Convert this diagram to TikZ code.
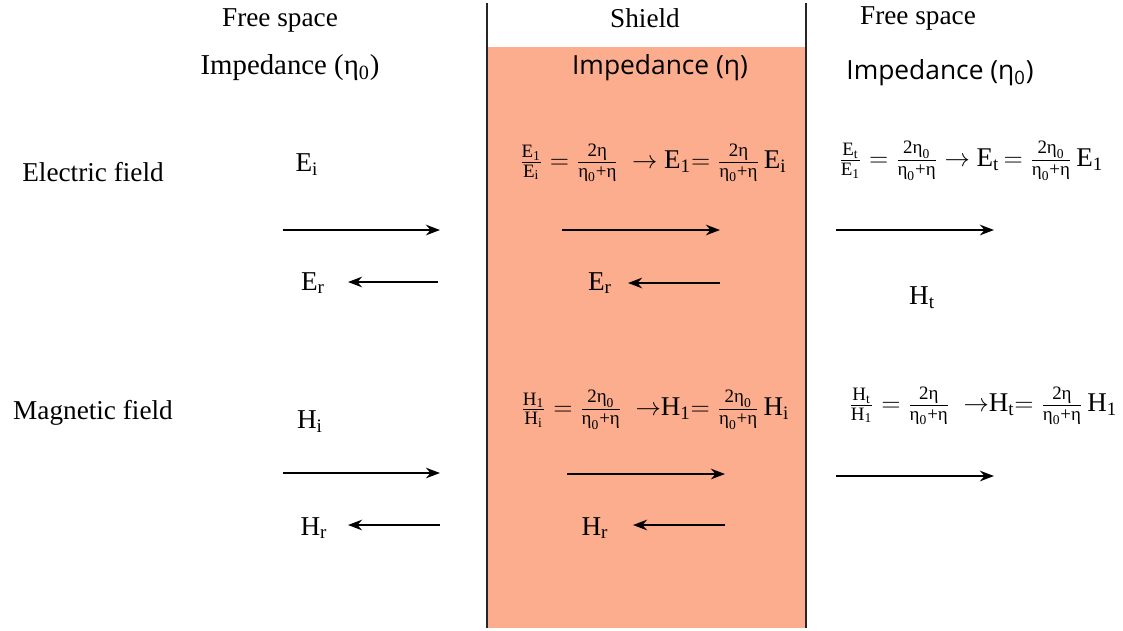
\documentclass[tikz,border=0pt]{standalone}
\usepackage{xcolor}
\usepackage{amsmath}
\usepackage{fontspec}
\setmainfont{Liberation Serif}
\newfontfamily\sansimp{Open Sans}
\usepackage{tikz}
\usetikzlibrary{arrows.meta}

\definecolor{shieldfill}{RGB}{251,173,141}
\newcommand{\et}{\text{η}}
\newcommand{\fld}[2]{$\text{#1}_{\text{#2}}$}

\tikzset{
    lbl/.style={font=\fontsize{15.5}{18}\selectfont},
    slbl/.style={font=\sansimp\fontsize{15}{18}\selectfont},
    eqn/.style={font=\fontsize{15.4}{18}\selectfont},
    wave/.style={line width=1.3pt, -{Stealth[length=8pt, width=6pt]}},
}

\begin{document}
\begin{tikzpicture}[x=0.02cm, y=-0.02cm]
    \useasboundingbox (0, 0) rectangle (1123, 630);

    % shield
    \fill[shieldfill] (487, 47) rectangle (806, 628);
    \draw[line width=1.6pt, black!85] (487, 3) -- (487, 628);
    \draw[line width=1.6pt, black!85] (806, 3) -- (806, 628);

    % headings
    \node[lbl] at (280, 20) (fs1) {Free space};
    \node[lbl, font=\fontsize{16.4}{18}\selectfont] at (290, 68) (imp1) {Impedance (η\textsubscript{0})};
    \node[lbl] at (645, 18) (sh) {Shield};
    \node[slbl] at (660, 68) (imp2) {Impedance (η)};
    \node[lbl] at (918, 18) (fs2) {Free space};
    \node[slbl] at (940, 73) (imp3) {Impedance (η\textsubscript{0})};
    \node[lbl] at (93, 172) (efield) {Electric field};
    \node[lbl] at (93, 413) (hfield) {Magnetic field};

    % electric field
    \node[lbl] at (307, 165) (ei) {\fld{E}{i}};
    \node[lbl] at (313, 283) (er1) {\fld{E}{r}};
    \node[lbl] at (600, 283) (er2) {\fld{E}{r}};
    \node[lbl] at (922, 298) (ht) {\fld{H}{t}};
    \node[eqn] at (653, 163) (eq1) {$\frac{\text{E}_\text{1}}{\text{E}_\text{i}}=\frac{\text{2}\et}{\et_\text{0}\text{+}\et}$ \ $\rightarrow$\ \fld{E}{1}$=\frac{\text{2}\et}{\et_\text{0}\text{+}\et}\,$\fld{E}{i}};
    \node[eqn] at (971, 161) (eq2) {$\frac{\text{E}_\text{t}}{\text{E}_\text{1}}=\frac{\text{2}\et_\text{0}}{\et_\text{0}\text{+}\et}$ $\rightarrow$\ \fld{E}{t}$\,=\frac{\text{2}\et_\text{0}}{\et_\text{0}\text{+}\et}\,$\fld{E}{1}};

    % magnetic field
    \node[lbl] at (310, 422) (hi) {\fld{H}{i}};
    \node[lbl] at (314, 528) (hr1) {\fld{H}{r}};
    \node[lbl] at (595, 528) (hr2) {\fld{H}{r}};
    \node[eqn] at (655, 410) (eq3) {$\frac{\text{H}_\text{1}}{\text{H}_\text{i}}=\frac{\text{2}\et_\text{0}}{\et_\text{0}\text{+}\et}$ \ $\rightarrow$\fld{H}{1}$=\frac{\text{2}\et_\text{0}}{\et_\text{0}\text{+}\et}\,$\fld{H}{i}};
    \node[eqn] at (983, 406) (eq4) {$\frac{\text{H}_\text{t}}{\text{H}_\text{1}}=\frac{\text{2}\et}{\et_\text{0}\text{+}\et}$ \ $\rightarrow$\fld{H}{t}$=\frac{\text{2}\et}{\et_\text{0}\text{+}\et}\,$\fld{H}{1}};

    % arrow ends
    \coordinate (a1s) at (283, 230); \coordinate (a1e) at (440, 230);
    \coordinate (a2s) at (438, 282); \coordinate (a2e) at (348, 282);
    \coordinate (a3s) at (562, 230); \coordinate (a3e) at (720, 230);
    \coordinate (a4s) at (720, 283); \coordinate (a4e) at (628, 283);
    \coordinate (a5s) at (836, 230); \coordinate (a5e) at (994, 230);
    \coordinate (b1s) at (283, 473); \coordinate (b1e) at (440, 473);
    \coordinate (b2s) at (440, 525); \coordinate (b2e) at (348, 525);
    \coordinate (b3s) at (567, 474); \coordinate (b3e) at (725, 474);
    \coordinate (b4s) at (725, 525); \coordinate (b4e) at (633, 525);
    \coordinate (b5s) at (836, 476); \coordinate (b5e) at (994, 476);

    % waves
    \draw[wave] (a1s) -- (a1e);
    \draw[wave] (a2s) -- (a2e);
    \draw[wave] (a3s) -- (a3e);
    \draw[wave] (a4s) -- (a4e);
    \draw[wave] (a5s) -- (a5e);
    \draw[wave] (b1s) -- (b1e);
    \draw[wave] (b2s) -- (b2e);
    \draw[wave] (b3s) -- (b3e);
    \draw[wave] (b4s) -- (b4e);
    \draw[wave] (b5s) -- (b5e);
\end{tikzpicture}
\end{document}
